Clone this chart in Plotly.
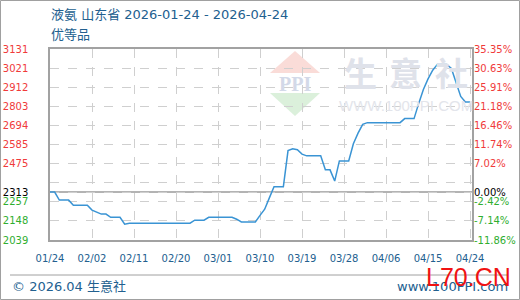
import plotly.graph_objects as go
import pandas as pd

# ---------------- data ----------------
start_date = "2026-01-24"
prices = [
    2313, 2313, 2267, 2267, 2267, 2238, 2238, 2238, 2238, 2210,
    2198, 2187, 2187, 2169, 2169, 2169, 2129, 2135, 2135, 2135,
    2135, 2135, 2135, 2135, 2135, 2135, 2135, 2135, 2135, 2135,
    2135, 2152, 2152, 2152, 2169, 2169, 2169, 2169, 2169, 2169,
    2158, 2142, 2142, 2142, 2142, 2180, 2215, 2280, 2344, 2344,
    2344, 2550, 2560, 2555, 2530, 2520, 2520, 2520, 2520, 2440,
    2440, 2376, 2491, 2491, 2491, 2589, 2650, 2700, 2710, 2710,
    2710, 2710, 2710, 2710, 2710, 2710, 2733, 2733, 2733, 2820,
    2900, 2960, 3010, 3043, 3043, 3043, 3020, 2940, 2860, 2828,
    2828,
]
dates = pd.date_range(start_date, periods=len(prices), freq="D")

x_tick_vals = ["2026-01-24", "2026-02-02", "2026-02-11", "2026-02-20", "2026-03-01",
               "2026-03-10", "2026-03-19", "2026-03-28", "2026-04-06", "2026-04-15",
               "2026-04-24"]
x_tick_text = ["01/24", "02/02", "02/11", "02/20", "03/01", "03/10", "03/19",
               "03/28", "04/06", "04/15", "04/24"]

base_price = 2313
y_tick_vals = [2039, 2148.2, 2257.4, 2313, 2366.6, 2475.8, 2585, 2694.2, 2803.4,
               2912.6, 3021.8, 3131]
y_left_text = ["2039", "2148", "2257", "2313", "", "2475", "2585", "2694", "2803",
               "2912", "3021", "3131"]
y_right_text = ["-11.86%", "-7.14%", "-2.42%", "0.00%", "", "7.02%", "11.74%",
                "16.46%", "21.18%", "25.91%", "30.63%", "35.35%"]

RED = "#f03a3a"
GREEN = "#2fae2f"
BLACK = "#000000"
BLUE_TXT = "#22608f"


def colored(vals, texts):
    out = []
    for v, t in zip(vals, texts):
        if t == "":
            out.append("")
            continue
        c = BLACK if v == base_price else (RED if v > base_price else GREEN)
        out.append(f'<span style="color:{c}">{t}</span>')
    return out


# plot area in pixels
L, R, T, B = 50, 472, 49, 240
W, H = 520, 300


def px(x):
    return (x - L) / (R - L)


def py(y):
    return (B - y) / (B - T)


fig = go.Figure()
fig.add_trace(go.Scatter(x=dates, y=prices, mode="lines",
                         line=dict(color="#3a94d4", width=1.5), hoverinfo="skip",
                         showlegend=False))
fig.add_trace(go.Scatter(x=dates, y=prices, mode="lines", yaxis="y2",
                         line=dict(color="rgba(0,0,0,0)", width=0), hoverinfo="skip",
                         showlegend=False))

font_ticks = dict(family="DejaVu Sans", size=10)
grid_col = "#cfcfcf"
axis_col = "#a2a2a2"

fig.update_layout(
    width=W, height=H, autosize=False,
    margin=dict(l=L, r=W - R, t=T, b=H - B, pad=0, autoexpand=False),
    paper_bgcolor="white", plot_bgcolor="white",
    showlegend=False,
    xaxis=dict(
        type="date", automargin=False,
        range=["2026-01-24", "2026-04-24 10:00"],
        tickvals=x_tick_vals, ticktext=x_tick_text,
        tickfont=dict(family="DejaVu Sans", size=10, color=BLUE_TXT),
        showgrid=True, gridcolor=grid_col, griddash="dash", gridwidth=1,
        showline=True, linecolor=axis_col, linewidth=1.5, mirror=True,
        ticks="", ticklabelstandoff=8, zeroline=False, fixedrange=True,
    ),
    yaxis=dict(
        range=[2039, 3131], automargin=False,
        tickvals=y_tick_vals, ticktext=colored(y_tick_vals, y_left_text),
        tickfont=font_ticks,
        showgrid=True, gridcolor=grid_col, griddash="dash", gridwidth=1,
        showline=True, linecolor=axis_col, linewidth=1.5, mirror=True,
        ticks="", ticklabelstandoff=18, zeroline=False, fixedrange=True,
    ),
    yaxis2=dict(
        range=[2039, 3131], overlaying="y", side="right", automargin=False,
        tickvals=y_tick_vals, ticktext=colored(y_tick_vals, y_right_text),
        tickfont=font_ticks, showgrid=False, zeroline=False,
        showline=False, ticks="", ticklabelstandoff=1, fixedrange=True,
    ),
)

shapes = []
# baseline at base price
shapes.append(dict(type="line", xref="paper", yref="y", x0=0, x1=1, y0=base_price,
                   y1=base_price, line=dict(color="#9a9a9a", width=1.5), layer="below"))
# watermark logo
shapes.append(dict(type="path", xref="paper", yref="paper", layer="below",
                   path=f"M {px(270)} {py(73)} L {px(320)} {py(73)} L {px(295)} {py(51)} Z",
                   fillcolor="#fadcd8", line=dict(width=0)))
shapes.append(dict(type="path", xref="paper", yref="paper", layer="below",
                   path=f"M {px(270)} {py(93)} L {px(320)} {py(93)} L {px(295)} {py(116)} Z",
                   fillcolor="#dbf0db", line=dict(width=0)))
# footer line
shapes.append(dict(type="line", xref="paper", yref="paper", x0=px(10), x1=px(507),
                   y0=py(275), y1=py(275), line=dict(color="#a0a0a0", width=1)))
# outer border
shapes.append(dict(type="rect", xref="paper", yref="paper", x0=px(0.5), x1=px(519.5),
                   y0=py(0.5), y1=py(299.5), line=dict(color="#a0a0a0", width=1)))
fig.update_layout(shapes=shapes)

ann = []


def add_text(text, x, y, size, color, family="DejaVu Sans", xanchor="left",
             yanchor="middle"):
    ann.append(dict(text=text, x=px(x), y=py(y), xref="paper", yref="paper",
                    showarrow=False, xanchor=xanchor, yanchor=yanchor,
                    font=dict(size=size, color=color, family=family)))


cjk = "DejaVu Sans, Noto Sans CJK SC"
add_text("液氨 山东省 2026-01-24 - 2026-04-24", 49, 15, 13, BLUE_TXT, cjk)
add_text("优等品", 49, 34, 13, BLUE_TXT, cjk)
# watermark
add_text("<b>PPI</b>", 295, 84, 20, "#d3d9e8", "Liberation Serif", "center")
for ch, cx in zip(["生", "意", "社"], [360, 405, 451]):
    add_text(f"<b>{ch}</b>", cx, 72, 33, "#dfe2ea", "Noto Sans CJK SC", "center")
add_text("WWW.100PPI.COM", 406, 105, 15, "#e3e5eb", "Liberation Sans", "center")
# footer
add_text("© 2026.04 生意社", 10, 286, 13, BLUE_TXT, cjk)
add_text("www.100PPI.com", 510, 286, 13, BLUE_TXT, "DejaVu Sans", "right")
add_text("L70.CN", 468, 277, 25, "#f01212", "Liberation Sans", "center")
fig.update_layout(annotations=ann)

fig.write_html("out.html", config={"displayModeBar": False})
